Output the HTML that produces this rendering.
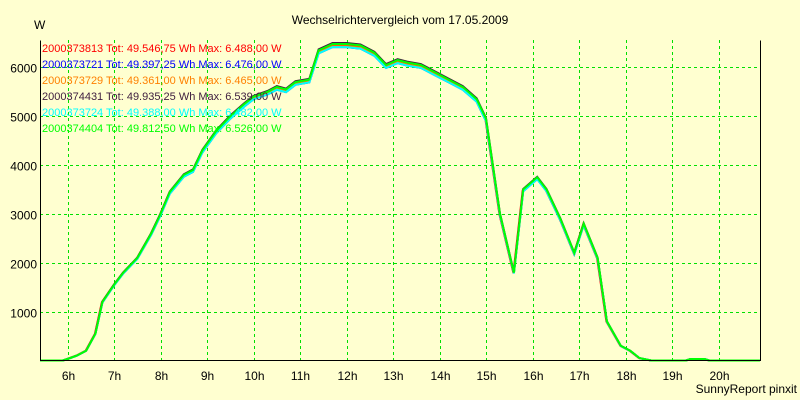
<!DOCTYPE html><html><head><style>body{margin:0;background:#ffffd0}svg{display:block;font-family:"Liberation Sans",sans-serif}</style></head><body>
<svg id="s" width="800" height="400" xmlns="http://www.w3.org/2000/svg">
<rect width="800" height="400" fill="#ffffd0"/>
<text x="400" y="24" font-size="12" text-anchor="middle">Wechselrichtervergleich vom 17.05.2009</text>
<text x="34" y="29" font-size="12">W</text>
<g id="grid" stroke="#00e000" stroke-dasharray="3,3" stroke-width="1"></g>
<g id="lab" font-size="12"></g>
<g id="ser" fill="none" stroke-width="2"></g>
<path d="M40.5 40.5V360.5H760.5V40.5" fill="none" stroke="#000" stroke-width="1"/>
<g font-size="11">
<text x="42" y="52" fill="#ff0000">2000373813 Tot: 49.546,75 Wh Max: 6.488,00 W</text>
<text x="42" y="68" fill="#0000ff">2000373721 Tot: 49.397,25 Wh Max: 6.476,00 W</text>
<text x="42" y="84" fill="#ff8000">2000373729 Tot: 49.361,00 Wh Max: 6.465,00 W</text>
<text x="42" y="100" fill="#402040">2000374431 Tot: 49.935,25 Wh Max: 6.539,00 W</text>
<text x="42" y="116" fill="#00ffff">2000373724 Tot: 49.388,00 Wh Max: 6.482,00 W</text>
<text x="42" y="132" fill="#00ff00">2000374404 Tot: 49.812,50 Wh Max: 6.526,00 W</text>
</g>
<text x="797" y="393" font-size="12" text-anchor="end">SunnyReport pinxit</text>
</svg>
<script>
var ns="http://www.w3.org/2000/svg";
function X(t){return 67.5+(t-6)*46.5}function Y(v){return 360.5-v*0.04885}
function el(p,n,a,txt){var e=document.createElementNS(ns,n);for(var k in a)e.setAttribute(k,a[k]);if(txt)e.textContent=txt;document.getElementById(p).appendChild(e);}
for(var h=6;h<=20;h++){var x=Math.round(X(h))+.5;el("grid","line",{x1:x,x2:x,y1:40,y2:360});el("lab","text",{x:x,y:380,"text-anchor":"middle"},h+"h");}
for(var v=1000;v<=6000;v+=1000){var y=Math.round(Y(v))+.5;el("grid","line",{x1:40,x2:760,y1:y,y2:y});el("lab","text",{x:37,y:y+5,"text-anchor":"end"},v);}
var d=[[5.41,0],[5.9,0],[6,30],[6.2,100],[6.4,200],[6.6,550],[6.75,1200],[7,1550],[7.2,1800],[7.5,2100],[7.8,2600],[8,3000],[8.2,3450],[8.5,3800],[8.7,3900],[8.9,4300],[9.2,4700],[9.5,5000],[9.8,5250],[10,5400],[10.3,5500],[10.5,5600],[10.7,5550],[10.9,5700],[11.2,5750],[11.4,6350],[11.7,6480],[12,6480],[12.3,6450],[12.6,6300],[12.85,6050],[13.1,6150],[13.3,6100],[13.6,6050],[13.9,5900],[14.2,5750],[14.5,5600],[14.8,5350],[15,4950],[15.3,3000],[15.6,1800],[15.8,3500],[16.1,3750],[16.3,3500],[16.6,2900],[16.9,2200],[17.1,2800],[17.4,2100],[17.6,800],[17.9,300],[18.1,200],[18.3,50],[18.55,0],[19.3,0],[19.4,30],[19.7,30],[19.8,0],[20.89,0]];
var cols=[["#ff0000",-0.01,0.995],["#0000ff",0,0.99],["#ff8000",0,0.993],["#402040",0,1.003],["#00ffff",0,0.99],["#00ff00",0,1]];
cols.forEach(function(c){var p=d.map(function(q){return X(Math.min(20.89,Math.max(5.41,q[0]+(q[1]>0&&q[1]<6000?c[1]:0)))).toFixed(1)+","+Y(q[1]*c[2]).toFixed(1)}).join(" ");el("ser","polyline",{points:p,stroke:c[0]});});
</script></body></html>
